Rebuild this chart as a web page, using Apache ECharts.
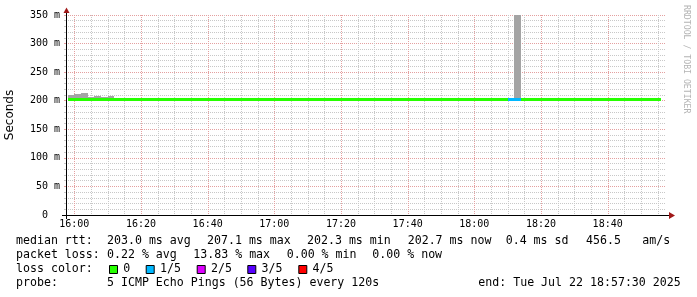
<!DOCTYPE html>
<html>
<head>
<meta charset="utf-8">
<script src="https://cdn.jsdelivr.net/npm/echarts@6/dist/echarts.min.js"></script>
<style>
html,body{margin:0;padding:0;background:#fff;}
#c{width:697px;height:297px;}
</style>
</head>
<body>
<div id="c"></div>
<script>
// ---- data (time in minutes since 15:00, each sample covers 2 minutes) ----
const sampleStart = 58;      // 15:58
const sampleStep = 2;        // minutes per sample (every 120s)
const medianMs = [
  203,203,203,203,203,203,203,203,203,203,
  203,203,203,203,203,203,203,203,203,203,
  203,203,203,203,203,203,203,203,203,203,
  203,203,203,203,203,203,203,203,203,203,
  203,203,203,203,203,203,203,203,202,203,
  203,203,203,203,203,203,203,203,203,203,
  203,203,203,203,203,203,203,203,203,203,
  203,203,203,203,203,203,203,203,203,203,
  203,203,203,203,203,203,203,203,203
];
const smokeTopMs = [
  210,212.3,213.5,207,208.3,206.5,208.3,204,204,204,
  204,204,204,204,204,204,204,204,204,204,
  204,204,204,204,204,204,204,204,204,204,
  204,204,204,204,204,204,204,204,204,204,
  204,204,204,204,204,204,204,204,204,204,
  204,204,204,204,204,204,204,204,204,204,
  204,204,204,204,204,204,204,350,204,204,
  204,204,204,204,204,204,204,204,204,204,
  204,204,204,204,204,204,204,204,204
];
const lossOfFive = [
  0,0,0,0,0,0,0,0,0,0,
  0,0,0,0,0,0,0,0,0,0,
  0,0,0,0,0,0,0,0,0,0,
  0,0,0,0,0,0,0,0,0,0,
  0,0,0,0,0,0,0,0,0,0,
  0,0,0,0,0,0,0,0,0,0,
  0,0,0,0,0,0,1,1,0,0,
  0,0,0,0,0,0,0,0,0,0,
  0,0,0,0,0,0,0,0,0
];
const xTickLabels = [60,80,100,120,140,160,180,200,220]; // 16:00 .. 18:40
const lossColors = ['#26ff00','#00b8ff','#dd00ff','#5700ff','#ff0000'];
const lossNames = ['0','1/5','2/5','3/5','4/5'];
const statsLines = [
  ['median rtt:', '203.0 ms avg', '207.1 ms max', '202.3 ms min', '202.7 ms now', '0.4 ms sd', '456.5', 'am/s'],
  ['packet loss:', '0.22 % avg', '13.83 % max', '0.00 % min', '0.00 % now']
];
const probeText = '5 ICMP Echo Pings (56 Bytes) every 120s';
const endText = 'end: Tue Jul 22 18:57:30 2025';

// ---- build ----
const MAJOR = '#e4a0a0', MINOR = '#c8c8c8';
const smokeData = smokeTopMs.map((hi, i) => [sampleStart + i*sampleStep, sampleStart + (i+1)*sampleStep, medianMs[i], hi]);
const medianData = medianMs.map((m, i) => [sampleStart + i*sampleStep, sampleStart + (i+1)*sampleStep, m, lossOfFive[i]]);
const vGridData = [];
for (let m = 60; m < 237.5; m += 5) vGridData.push([m, (m % 20 === 0) ? 1 : 0]);
function fmtTime(v){
  const h = 15 + Math.floor(v/60), mm = v % 60;
  return h + ':' + (mm < 10 ? '0' : '') + mm;
}
const mono = 'DejaVu Sans Mono';
const FONT = '11.6px "DejaVu Sans Mono"';
const chart = echarts.init(document.getElementById('c'), null, {renderer:'canvas'});

const graphics = [];
const statX = [[16,107,207,307,407.7,505.7,586,642.3],[16,107,193.3,286.7,372.3]];
const lineY = [241, 255, 269, 283];
statsLines.forEach((ln, r) => ln.forEach((t, k) => graphics.push({
  type:'text', x: statX[r][k], y: lineY[r], silent:true,
  style:{text:t, font:FONT, fill:'#000', verticalAlign:'middle'}
})));
graphics.push({type:'text', x:16, y:lineY[2], style:{text:'loss color:', font:FONT, fill:'#000', verticalAlign:'middle'}});
const boxX = [109, 145.7, 196.7, 247.3, 298.3];
lossNames.forEach((n, i) => {
  graphics.push({type:'rect', shape:{x:boxX[i]+0.5, y:265.5, width:8, height:8}, style:{fill:lossColors[i], stroke:'#000', lineWidth:1}});
  graphics.push({type:'text', x:boxX[i]+14.3, y:lineY[2], style:{text:n, font:FONT, fill:'#000', verticalAlign:'middle'}});
});
graphics.push({type:'text', x:16, y:lineY[3], style:{text:'probe:', font:FONT, fill:'#000', verticalAlign:'middle'}});
graphics.push({type:'text', x:107, y:lineY[3], style:{text:probeText, font:FONT, fill:'#000', verticalAlign:'middle'}});
graphics.push({type:'text', x:478.3, y:lineY[3], style:{text:endText, font:FONT, fill:'#000', verticalAlign:'middle'}});
// watermark
graphics.push({type:'text', x:686, y:5, rotation:-Math.PI/2, style:{text:'RRDTOOL / TOBI OETIKER', font:'8.2px "DejaVu Sans Mono"', fill:'#b4b4b4', verticalAlign:'middle'}});
// axis extensions & arrows
graphics.push({type:'line', shape:{x1:62, y1:215.5, x2:670, y2:215.5}, style:{stroke:'#000', lineWidth:1}, z:10});
graphics.push({type:'line', shape:{x1:66.5, y1:219, x2:66.5, y2:11}, style:{stroke:'#000', lineWidth:1}, z:10});
graphics.push({type:'polygon', shape:{points:[[669,212],[669,219],[675,215.5]]}, style:{fill:'#a01818'}, z:10});
graphics.push({type:'polygon', shape:{points:[[63.5,13],[69.5,13],[66.5,7.5]]}, style:{fill:'#a01818'}, z:10});

chart.setOption({
  animation:false,
  backgroundColor:'#fff',
  grid:{left:66, right:31, top:15, bottom:82, containLabel:false, outerBoundsMode:'none'},
  xAxis:{
    type:'value', min:57.5, max:237.5,
    axisLine:{show:false},
    axisTick:{show:false},
    splitLine:{show:false},
    axisLabel:{customValues:xTickLabels, formatter:fmtTime, margin:4, fontFamily:mono, fontSize:10, color:'#000'}
  },
  yAxis:{
    type:'value', min:0, max:350, interval:50,
    name:'Seconds', nameLocation:'middle', nameGap:50, nameRotate:90,
    nameTextStyle:{fontFamily:'DejaVu Sans', fontSize:12, color:'#000'},
    axisLine:{show:false},
    axisTick:{show:true, length:2, lineStyle:{color:MAJOR}},
    minorTick:{show:true, splitNumber:5, length:2, lineStyle:{color:MINOR}},
    axisLabel:{margin:6, fontFamily:mono, fontSize:10, color:'#000', formatter:v => v === 0 ? '0  ' : v + ' m'},
    splitLine:{show:true, lineStyle:{color:MAJOR, type:[1,1]}},
    minorSplitLine:{show:true, lineStyle:{color:MINOR, type:[1,1]}}
  },
  graphic:graphics,
  series:[
    {type:'custom', z:1, silent:true, data:vGridData,
     renderItem:(params, api) => {
       const top = api.coord([api.value(0), 350]);
       const bot = api.coord([api.value(0), 0]);
       const x = Math.round(top[0]) + 0.5;
       return {type:'line', shape:{x1:x, y1:Math.round(top[1]), x2:x, y2:Math.round(bot[1])},
               style:{stroke: api.value(1) ? MAJOR : MINOR, lineWidth:1, lineDash:[1,1]}};
     }},
    {type:'custom', z:2, silent:true, data:smokeData,
     renderItem:(params, api) => {
       const a = api.coord([api.value(0), api.value(3)]);
       const b = api.coord([api.value(1), api.value(2)]);
       const x0 = Math.round(a[0]), x1 = Math.round(b[0]);
       const y0 = Math.round(a[1]), y1 = Math.round(b[1]);
       return {type:'rect', shape:{x:x0, y:y0, width:x1-x0, height:y1-y0}, style:{fill:'#a4a4a4'}};
     }},
    {type:'custom', z:3, silent:true, data:medianData,
     renderItem:(params, api) => {
       const a = api.coord([api.value(0), api.value(2)]);
       const b = api.coord([api.value(1), api.value(2)]);
       const x0 = Math.round(a[0]), x1 = Math.round(b[0]);
       const y = Math.round(a[1] - 1.5);
       return {type:'rect', shape:{x:x0, y:y, width:x1-x0, height:3}, style:{fill:lossColors[api.value(3)]}};
     }}
  ]
});
</script>
</body>
</html>
